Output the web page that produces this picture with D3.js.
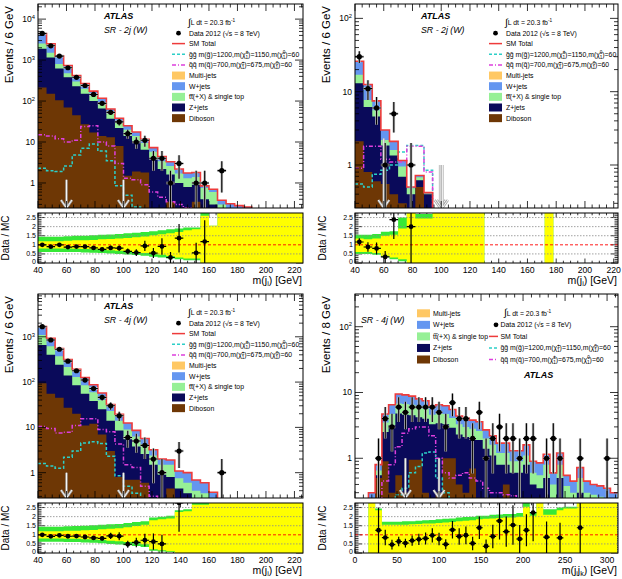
<!DOCTYPE html>
<html>
<head>
<meta charset="utf-8">
<script src="https://cdn.jsdelivr.net/npm/d3@7"></script>
<style>
  body { margin: 0; background: #fff; }
  svg { display: block; font-family: "Liberation Sans", Arial, Helvetica, sans-serif; }
</style>
</head>
<body>
<script>
// ---------- data: SR-2j (W), m(j), 6 GeV bins from 40 ----------
const p1Data = [4470, 2230, 1250, 650, 380, 240, 145, 88, 53, 31,
  16, 10, 11, 4, 4, 1, 3, 0, 1, 1,
  0, 2, 0, 0, 0, 0, 0, 0, 0, 0, 0];
const p1Diboson = [215, 150, 105, 70, 45, 27, 17, 14, 13, 8,
  1.5, 1.9, 1.8, 0.2, 0.2, 0.35, 0.1, 0.1, 0.35, 0,
  0, 0, 0, 0, 0, 0, 0, 0, 0, 0, 0];
const p1Zjets = [1685, 1000, 515, 310, 185, 123, 83, 52, 24, 14,
  12.5, 7.6, 4.7, 3.6, 2.0, 1.25, 0.9, 0.7, 0.55, 0.4,
  0.3, 0.2, 0.15, 0.12, 0.1, 0.05, 0.04, 0.03, 0.03, 0.02, 0.02];
const p1Ttbar = [640, 350, 180, 100, 70, 50, 35, 24, 13, 8,
  6, 4.5, 3, 2, 1.2, 1.0, 0.7, 0.5, 0.5, 0.35,
  0.3, 0.1, 0.07, 0.08, 0.08, 0, 0, 0, 0, 0, 0];
const p1Wjets = [1930, 980, 450, 260, 120, 67, 40, 27, 14, 8,
  5, 3.5, 2.2, 1.5, 1.0, 0.7, 0.5, 0.45, 0.4, 0.1,
  0.1, 0.08, 0.09, 0.08, 0.08, 0, 0, 0, 0, 0, 0];
const p1Multijet = [4, 2, 1, 0.5, 0, 0, 0, 0, 0, 0,
  0, 0, 0, 0, 0, 0, 0, 0, 0, 0,
  0, 0, 0, 0, 0, 0, 0, 0, 0, 0, 0];
const p1SigGG = [2.3, 2.0, 1.9, 2.6, 4.8, 7, 9, 6, 3.5, 0.85,
  0.5, 0.26, 0.2, 0.15, 0, 0, 0, 0, 0, 0,
  0, 0, 0, 0, 0, 0, 0, 0, 0, 0, 0];
const p1SigQQ = [15, 14, 12, 10, 11, 24, 25, 10, 8, 3,
  1.3, 1.2, 0.9, 0.6, 0.45, 0.35, 0.3, 0.25, 0.2, 0.15,
  0.1, 0, 0, 0, 0, 0, 0, 0, 0, 0, 0];
const p1YellowLo = [0.8, 0.8, 0.8, 0.8, 0.78, 0.77, 0.75, 0.73, 0.7, 0.68,
  0.64, 0.6, 0.55, 0.5, 0.45, 0.38, 0.3, 0.25, 0.25, 0,
  0, 0, 0, 0, 0, 0, 0, 0, 0, 0, 0];
const p1YellowHi = [1.2, 1.2, 1.2, 1.22, 1.25, 1.25, 1.27, 1.3, 1.32, 1.35,
  1.38, 1.42, 1.46, 1.52, 1.58, 1.64, 1.7, 1.8, 1.85, 2.6,
  2.05, 3, 3, 3, 3, 3, 3, 3, 3, 3, 3];
const p1GreenLo = [0.6, 0.6, 0.6, 0.6, 0.6, 0.58, 0.56, 0.55, 0.52, 0.5,
  0.47, 0.44, 0.4, 0.35, 0.3, 0.25, 0.2, 0.15, 0.15, 0,
  0, 0, 0, 0, 0, 0, 0, 0, 0, 0, 0];
const p1GreenHi = [1.45, 1.45, 1.45, 1.47, 1.5, 1.5, 1.52, 1.55, 1.57, 1.6,
  1.63, 1.66, 1.7, 1.75, 1.8, 1.85, 1.9, 1.95, 1.95, 2.75,
  2.05, 3, 3, 3, 3, 3, 3, 3, 3, 3, 3];
const p1Cuts = [60, 100];
const p1CutTop = [1.2, 1.2];

// ---------- data: SR-2j (W), second selection ----------
const p2Data = [30, 11, 6, 1, 5, 0, 1, 0, 0, 0,
  0, 0, 0, 0, 0, 0, 0, 0, 0, 0,
  0, 0, 0, 0, 0, 0, 0, 0, 0, 0, 0];
const p2Diboson = [2.1, 0.8, 0.6, 0.55, 0.4, 0.3, 0.25, 0.5, 0, 0,
  0, 0, 0, 0, 0, 0, 0, 0, 0, 0,
  0, 0, 0, 0, 0, 0, 0, 0, 0, 0, 0];
const p2Zjets = [10.9, 5.4, 4.0, 1.3, 0.95, 0.39, 0.15, 0.12, 0.4, 0.05,
  0.05, 0.04, 0.04, 0.03, 0.03, 0, 0, 0, 0, 0,
  0, 0, 0.03, 0, 0, 0, 0, 0, 0, 0, 0];
const p2Ttbar = [4, 1.5, 1.0, 0.35, 0.25, 0.26, 0.08, 0.06, 0.01, 0,
  0, 0, 0, 0, 0, 0, 0, 0, 0, 0,
  0, 0, 0, 0, 0, 0, 0, 0, 0, 0, 0];
const p2Wjets = [9, 4.8, 1.9, 0.8, 0.5, 0.2, 0.02, 0.04, 0.01, 0,
  0, 0, 0, 0, 0, 0, 0, 0, 0, 0,
  0, 0, 0, 0, 0, 0, 0, 0, 0, 0, 0];
const p2Multijet = [0, 0, 0, 0, 0, 0, 0, 0, 0, 0,
  0, 0, 0, 0, 0, 0, 0, 0, 0, 0,
  0, 0, 0, 0, 0, 0, 0, 0, 0, 0, 0];
const p2SigGG = [0.55, 0.5, 0.75, 0.85, 1.0, 1.5, 1.85, 1.85, 0.85, 0.2,
  0, 0, 0, 0, 0, 0, 0, 0, 0, 0,
  0, 0, 0, 0, 0, 0, 0, 0, 0, 0, 0];
const p2SigQQ = [0.9, 1.8, 1.8, 1.2, 1.1, 1.1, 1.8, 1.8, 0.8, 0.15,
  0.1, 0, 0, 0, 0, 0, 0, 0, 0, 0,
  0, 0, 0, 0, 0, 0, 0, 0, 0, 0, 0];
const p2YellowLo = [0.6, 0.6, 0.55, 0.4, 0.3, 0.2, 0, 0, 0, 0,
  0, 0, 0, 0, 0, null, null, null, null, null,
  null, null, 0, null, null, null, null, null, null, null, null];
const p2YellowHi = [1.35, 1.3, 1.35, 1.5, 1.55, 1.9, 3, 2.45, 2.45, 3,
  3, 3, 3, 3, 3, null, null, null, null, null,
  null, null, 3, null, null, null, null, null, null, null, null];
const p2GreenLo = [0.5, 0.5, 0.45, 0.35, 0.2, 0.1, 0, 0, 0, 0,
  0, 0, 0, 0, 0, null, null, null, null, null,
  null, null, 0, null, null, null, null, null, null, null, null];
const p2GreenHi = [1.55, 1.55, 1.6, 1.72, 1.75, 2.5, 3, 2.7, 2.7, 3,
  3, 3, 3, 3, 3, null, null, null, null, null,
  null, null, 3, null, null, null, null, null, null, null, null];
const p2Cuts = [60, 99.2, 100.8];
const p2CutTop = [2.3, 1.0, 1.0];

// ---------- data: SR-4j (W), m(j) ----------
const p3Data = [1670, 850, 530, 290, 178, 111, 72, 46, 30, 18,
  6, 5, 4, 2, 1, 0, 3, 0, 0, 0,
  0, 1, 0, 0, 0, 0, 0, 0, 0, 0, 0];
const p3Diboson = [94, 55, 45, 27, 20, 11, 12, 7, 3, 0.8,
  0.7, 0.7, 0.6, 0.1, 0.1, 0.45, 0, 0, 0, 0,
  0, 0, 0, 0, 0, 0, 0, 0, 0, 0, 0];
const p3Zjets = [566, 345, 195, 113, 65, 44, 26, 18, 11, 7.7,
  4.8, 3.1, 2.0, 1.4, 0.8, 0.35, 0.45, 0.35, 0.25, 0.2,
  0.12, 0.05, 0.02, 0.02, 0.02, 0.02, 0.02, 0.02, 0.02, 0.02, 0.02];
const p3Ttbar = [440, 220, 130, 75, 45, 30, 22, 15, 9, 5.5,
  3.5, 2.5, 1.6, 0.9, 0.6, 0.7, 0.3, 0.25, 0.15, 0.15,
  0.08, 0.05, 0, 0, 0, 0, 0, 0, 0, 0, 0];
const p3Wjets = [570, 304, 176, 100, 61, 41, 27, 17.5, 9, 5.5,
  3.5, 2.3, 1.5, 0.8, 0.5, 0.4, 0.34, 0.4, 0.29, 0.25,
  0.17, 0.1, 0, 0, 0, 0, 0, 0, 0, 0, 0];
const p3Multijet = [2, 1, 0.5, 0, 0, 0, 0, 0, 0, 0,
  0, 0, 0, 0, 0, 0, 0, 0, 0, 0,
  0, 0, 0, 0, 0, 0, 0, 0, 0, 0, 0];
const p3SigGG = [1.6, 1.4, 1.25, 2.2, 3.0, 4.5, 4.8, 4.4, 2.3, 0.85,
  0.5, 0.35, 0.2, 0.1, 0, 0, 0, 0, 0, 0,
  0, 0, 0, 0, 0, 0, 0, 0, 0, 0, 0];
const p3SigQQ = [10.4, 9.4, 7.5, 7.8, 11, 15.5, 15.5, 9, 8, 4.3,
  1.5, 1.3, 0.5, 0.3, 0.2, 0.15, 0, 0, 0, 0,
  0, 0, 0, 0, 0, 0, 0, 0, 0, 0, 0];
const p3YellowLo = [0.8, 0.8, 0.8, 0.79, 0.78, 0.76, 0.74, 0.72, 0.68, 0.65,
  0.6, 0.55, 0.48, 0.2, 0.15, 0.1, 0, 0, 0, 0,
  0, 0, 0, 0, 0, 0, 0, 0, 0, 0, 0];
const p3YellowHi = [1.2, 1.2, 1.2, 1.22, 1.23, 1.25, 1.27, 1.3, 1.33, 1.36,
  1.42, 1.48, 1.55, 1.8, 1.85, 1.9, 2.25, 2.3, 2.65, 2.65,
  3, 3, 3, 3, 3, 3, 3, 3, 3, 3, 3];
const p3GreenLo = [0.62, 0.62, 0.62, 0.6, 0.6, 0.58, 0.56, 0.54, 0.5, 0.47,
  0.42, 0.38, 0.33, 0.12, 0.08, 0.05, 0, 0, 0, 0,
  0, 0, 0, 0, 0, 0, 0, 0, 0, 0, 0];
const p3GreenHi = [1.45, 1.45, 1.45, 1.47, 1.48, 1.5, 1.52, 1.55, 1.58, 1.6,
  1.65, 1.7, 1.75, 1.95, 2.0, 2.05, 2.35, 2.4, 2.75, 2.75,
  3, 3, 3, 3, 3, 3, 3, 3, 3, 3, 3];
const p3Cuts = [60, 100];
const p3CutTop = [1.0, 1.0];

// ---------- data: SR-4j (W), m(ji jk), 8 GeV bins from 0 ----------
const p4Data = [0, 0, 0, 1, 4, 3, 6, 5, 6, 6,
  6, 6, 5, 3, 7, 4, 4, 2, 5, 1,
  2, 3, 2, 2, 1, 2, 2, 0, 1, 2,
  1, 0, 0, 1, 0, 0, 0, 1, 0];
const p4Diboson = [0, 0, 0, 0.5, 0.9, 0.3, 0.55, 0.3, 0.95, 0.95,
  0.3, 0.25, 0.3, 1.0, 1.0, 0.4, 0.3, 0.7, 0.2, 0.2,
  0.1, 0.1, 0.4, 0.1, 0.1, 0.1, 0.05, 0.05, 0.05, 0,
  0, 0, 0, 0, 0, 0, 0, 0, 0];
const p4Zjets = [0, 0, 0.15, 0.05, 1.6, 2.9, 4.25, 4.3, 3.55, 3.25,
  3.7, 3.05, 3.1, 2.3, 1.9, 1.9, 1.8, 1.3, 1.7, 1.2,
  1.0, 0.7, 0.4, 0.5, 0.5, 0.7, 0.35, 0.3, 0.45, 0.25,
  0.5, 0.25, 0.2, 0.3, 0.2, 0.18, 0.17, 0.15, 0.13];
const p4Ttbar = [0, 0, 0.05, 0.1, 1.0, 1.5, 2.0, 2.1, 2.0, 1.8,
  1.6, 1.3, 1.4, 1.4, 1.2, 1.0, 0.9, 0.8, 0.7, 0.6,
  0.5, 0.4, 0.4, 0.3, 0.3, 0.3, 0.2, 0.2, 0.3, 0.15,
  0.3, 0.13, 0.1, 0.2, 0.1, 0.1, 0.09, 0.09, 0.07];
const p4Wjets = [0, 0, 0.1, 0.15, 1.2, 1.8, 2.7, 2.5, 2.3, 2.0,
  1.9, 1.6, 1.7, 1.6, 1.4, 1.1, 1.1, 1.0, 1.0, 0.7,
  0.6, 0.5, 0.5, 0.4, 0.4, 0.5, 0.3, 0.3, 0.35, 0.2,
  0.4, 0.17, 0.15, 0.22, 0.15, 0.12, 0.12, 0.11, 0.1];
const p4Multijet = [0, 0, 0, 0, 0, 0, 0, 0, 0, 0,
  0, 0, 0, 0, 0, 0, 0, 0, 0, 0,
  0, 0, 0, 0, 0, 0, 0, 0, 0, 0,
  0, 0, 0, 0, 0, 0, 0, 0, 0];
const p4SigGG = [0, 0, 0, 0, 0, 0, 0.28, 0.35, 0.6, 0.75,
  1.2, 1.25, 0.5, 0.3, 0.2, 0.1, 0, 0, 0, 0,
  0, 0, 0, 0, 0, 0, 0, 0, 0, 0,
  0, 0, 0, 0, 0, 0, 0, 0, 0];
const p4SigQQ = [0, 0, 0, 0.2, 0.45, 0.8, 1.5, 2.4, 2.8, 3.0,
  3.0, 2.2, 1.0, 0.6, 0.5, 0.55, 0.6, 0.5, 0.45, 0.35,
  0.3, 0.3, 0.28, 0.27, 0.2, 0.2, 0.2, 0.2, 0.2, 0.15,
  0.15, 0.15, 0.1, 0.1, 0.1, 0.1, 0.1, 0.1, 0.1];
const p4YellowLo = [null, null, 0, 0, 0, 0, 0, 0, 0, 0,
  0, 0, 0, 0, 0, 0, 0, 0, 0, 0,
  0, 0, 0, 0, 0, 0, 0, 0, 0, 0,
  0, 0, 0, 0, 0, 0, 0, 0, 0];
const p4YellowHi = [null, null, 3, 2.35, 1.55, 1.55, 1.55, 1.55, 1.58, 1.6,
  1.62, 1.62, 1.65, 1.68, 1.7, 1.75, 1.78, 1.8, 1.85, 1.88,
  1.9, 1.92, 1.95, 1.95, 2.0, 2.55, 2.05, 3, 2.1, 2.1,
  2.35, 2.45, 2.45, 3, 3, 3, 3, 3, 3];
const p4GreenLo = [null, null, 0, 0, 0, 0, 0, 0, 0, 0,
  0, 0, 0, 0, 0, 0, 0, 0, 0, 0,
  0, 0, 0, 0, 0, 0, 0, 0, 0, 0,
  0, 0, 0, 0, 0, 0, 0, 0, 0];
const p4GreenHi = [null, null, 3, 2.45, 1.72, 1.72, 1.72, 1.74, 1.75, 1.78,
  1.8, 1.82, 1.85, 1.88, 1.9, 1.95, 1.98, 2.0, 2.05, 2.05,
  2.1, 2.12, 2.15, 2.15, 2.2, 2.75, 2.2, 3, 2.4, 2.4,
  2.5, 2.55, 2.55, 3, 3, 3, 3, 3, 3];
const p4Cuts = [60, 100];
const p4CutTop = [1.0, 1.0];

// tick labels
const xLabelsJet = [40, 60, 80, 100, 120, 140, 160, 180, 200, 220];
const xLabelsJJ = [0, 50, 100, 150, 200, 250, 300];
const ratioLabels = [0, 0.5, 1, 1.5, 2, 2.5];
const ratioGrid = [0.5, 1.5, 2, 2.5];

// legend texts
const lumiText = [['\u222B', 'big'], ['L dt = 20.3 fb', ''], ['-1', 'sup']];
const dataText = [['Data 2012 (\u221As = 8 TeV)', '']];
const smText = [['SM Total', '']];
const ggText = [['g\u0303g\u0303 m(g\u0303)=1200,m(\u03C7\u0303', ''], ['\u00B1', 'sup'], ['1', 'subb'],
  [')=1150,m(\u03C7\u0303', ''], ['0', 'sup'], ['1', 'subb'], [')=60', '']];
const qqText = [['q\u0303q\u0303 m(q\u0303)=700,m(\u03C7\u0303', ''], ['\u00B1', 'sup'], ['1', 'subb'],
  [')=675,m(\u03C7\u0303', ''], ['0', 'sup'], ['1', 'subb'], [')=60', '']];
const bkgNames = ['Diboson', 'Z+jets', 'tt\u0305(+X) & single top', 'W+jets', 'Multi-jets'];
const bkgColors = ['#6e3705', '#0a0a5a', '#96f096', '#6496f0', '#ffc864'];
const smColor = '#ee3b3b', ggColor = '#2ccfc8', qqColor = '#dd3fdd';

const W = 622, H = 579, ratioMax = 2.75;

const panels = [
  { left: 38, right: 303, top: 4, bottom: 208, rTop: 213, rBottom: 263,
    xMin: 40, xMax: 226, binStart: 40, binW: 6, yMin: 0.245, yMax: 23400,
    xMajor: 20, xMinor: 5, xLabels: xLabelsJet, yTitle: 'Events / 6 GeV',
    xTitle: [['m(j', ''], ['i', 'sub'], [') [GeV]', '']], region: 'SR - 2j (W)', legend: 'std',
    data: p1Data, mc: [p1Diboson, p1Zjets, p1Ttbar, p1Wjets, p1Multijet], gg: p1SigGG, qq: p1SigQQ,
    band: [p1YellowLo, p1YellowHi, p1GreenLo, p1GreenHi], cuts: p1Cuts, cutTop: p1CutTop },
  { left: 355, right: 618, top: 4, bottom: 208, rTop: 213, rBottom: 263,
    xMin: 40, xMax: 223, binStart: 40, binW: 6, yMin: 0.259, yMax: 157,
    xMajor: 20, xMinor: 5, xLabels: xLabelsJet, yTitle: 'Events / 6 GeV',
    xTitle: [['m(j', ''], ['i', 'sub'], [') [GeV]', '']], region: 'SR - 2j (W)', legend: 'std',
    data: p2Data, mc: [p2Diboson, p2Zjets, p2Ttbar, p2Wjets, p2Multijet], gg: p2SigGG, qq: p2SigQQ,
    band: [p2YellowLo, p2YellowHi, p2GreenLo, p2GreenHi], cuts: p2Cuts, cutTop: p2CutTop },
  { left: 38, right: 303, top: 294, bottom: 498, rTop: 503, rBottom: 553,
    xMin: 40, xMax: 226, binStart: 40, binW: 6, yMin: 0.276, yMax: 8800,
    xMajor: 20, xMinor: 5, xLabels: xLabelsJet, yTitle: 'Events / 6 GeV',
    xTitle: [['m(j', ''], ['i', 'sub'], [') [GeV]', '']], region: 'SR - 4j (W)', legend: 'std',
    data: p3Data, mc: [p3Diboson, p3Zjets, p3Ttbar, p3Wjets, p3Multijet], gg: p3SigGG, qq: p3SigQQ,
    band: [p3YellowLo, p3YellowHi, p3GreenLo, p3GreenHi], cuts: p3Cuts, cutTop: p3CutTop },
  { left: 355, right: 618, top: 294, bottom: 498, rTop: 503, rBottom: 553,
    xMin: 0, xMax: 313, binStart: 0, binW: 8, yMin: 0.249, yMax: 314,
    xMajor: 50, xMinor: 10, xLabels: xLabelsJJ, yTitle: 'Events / 8 GeV',
    xTitle: [['m(j', ''], ['i', 'sub'], ['j', ''], ['k', 'sub'], [') [GeV]', '']], region: 'SR - 4j (W)', legend: 'split',
    data: p4Data, mc: [p4Diboson, p4Zjets, p4Ttbar, p4Wjets, p4Multijet], gg: p4SigGG, qq: p4SigQQ,
    band: [p4YellowLo, p4YellowHi, p4GreenLo, p4GreenHi], cuts: p4Cuts, cutTop: p4CutTop }
];

const svg = d3.select('body').append('svg').attr('width', W).attr('height', H);
const defs = svg.append('defs');

// text with super/subscripts
function rich(t, parts, size, subShift = 0.3) {
  let shift = 0;
  parts.forEach(([s, k]) => {
    const off = k === 'sup' ? -0.38 * size : (k === 'sub' || k === 'subb') ? subShift * size : k === 'big' ? 0.1 * size : 0;
    const fs = (k === 'sup' || k === 'sub' || k === 'subb') ? size * 0.68 : k === 'big' ? size * 1.45 : size;
    const ts = t.append('tspan').attr('dy', off - shift).attr('font-size', fs).text(s);
    if (k === 'subb') ts.attr('dx', -0.4 * size);
    shift = off;
  });
}

function drawPanel(p, idx) {
  const x = d3.scaleLinear().domain([p.xMin, p.xMax]).range([p.left, p.right]);
  const y = d3.scaleLog().domain([p.yMin, p.yMax]).range([p.bottom, p.top]);
  const r = d3.scaleLinear().domain([0, ratioMax]).range([p.rBottom, p.rTop]);
  const nb = p.data.length;
  const edge = i => x(p.binStart + i * p.binW);
  const floorY = p.bottom + 6;
  const yv = v => v > 0 ? Math.min(y(v), floorY) : floorY;

  defs.append('clipPath').attr('id', 'mclip' + idx).append('rect')
    .attr('x', p.left).attr('y', p.top).attr('width', p.right - p.left).attr('height', p.bottom - p.top);
  defs.append('clipPath').attr('id', 'rclip' + idx).append('rect')
    .attr('x', p.left).attr('y', p.rTop).attr('width', p.right - p.left).attr('height', p.rBottom - p.rTop);

  const g = svg.append('g').attr('clip-path', `url(#mclip${idx})`);

  const stepLine = vals => vals.map((v, i) => `${i ? 'L' : 'M'}${edge(i)},${yv(v)}L${edge(i + 1)},${yv(v)}`).join('');
  const stepArea = vals => `M${edge(0)},${floorY}` + vals.map((v, i) => `L${edge(i)},${yv(v)}L${edge(i + 1)},${yv(v)}`).join('') + `L${edge(nb)},${floorY}Z`;

  // stacked backgrounds
  const cum = [];
  let run = p.mc[0].map(() => 0);
  p.mc.forEach(comp => { run = run.map((v, i) => v + comp[i]); cum.push(run); });
  for (let k = cum.length - 1; k >= 0; k--) {
    g.append('path').attr('d', stepArea(cum[k])).attr('fill', bkgColors[k]);
  }
  const total = cum[cum.length - 1];

  // signals and SM total
  g.append('path').attr('d', stepLine(p.gg)).attr('fill', 'none').attr('stroke', ggColor)
    .attr('stroke-width', 1.5).attr('stroke-dasharray', '3,2');
  g.append('path').attr('d', stepLine(p.qq)).attr('fill', 'none').attr('stroke', qqColor)
    .attr('stroke-width', 1.5).attr('stroke-dasharray', '4,2,1,2');
  g.append('path').attr('d', stepLine(total)).attr('fill', 'none').attr('stroke', smColor).attr('stroke-width', 1.6);

  // cut arrows
  p.cuts.forEach((c, i) => {
    const ax = x(c), y0 = y(p.cutTop[i]), y1 = p.bottom;
    const d = `M${ax},${y0}L${ax},${y1}M${ax - 5.5},${y1 - 8}L${ax},${y1}L${ax + 5.5},${y1 - 8}`;
    g.append('path').attr('d', d).attr('fill', 'none').attr('stroke', '#a8a8a8').attr('stroke-width', 2.4);
    g.append('path').attr('d', d).attr('fill', 'none').attr('stroke', '#ffffff').attr('stroke-width', 0.9);
  });

  // data points
  p.data.forEach((n, i) => {
    if (n <= 0) return;
    const cx = (edge(i) + edge(i + 1)) / 2, cy = y(n);
    const lo = n - Math.sqrt(n), hi = n + Math.sqrt(n);
    const d = `M${cx},${lo > 0 ? Math.min(y(lo), floorY) : floorY}L${cx},${y(hi)}M${edge(i)},${cy}L${edge(i + 1)},${cy}`;
    g.append('path').attr('d', d).attr('stroke', '#bdbdbd').attr('stroke-width', 2.6);
    g.append('path').attr('d', d).attr('stroke', '#000').attr('stroke-width', 1.1);
    g.append('circle').attr('cx', cx).attr('cy', cy).attr('r', 2.6).attr('fill', '#000');
  });

  // main frame and ticks
  const ax = svg.append('g').attr('stroke', '#000').attr('stroke-width', 0.8);
  const tick = (x1, y1, x2, y2) => ax.append('line').attr('x1', x1).attr('y1', y1).attr('x2', x2).attr('y2', y2);
  const xTickSet = (yB, yT, lMaj, lMin) => {
    d3.range(Math.ceil(p.xMin / p.xMinor) * p.xMinor, p.xMax + 1e-6, p.xMinor).forEach(t => {
      const len = Math.abs(t / p.xMajor - Math.round(t / p.xMajor)) < 1e-6 ? lMaj : lMin;
      tick(x(t), yB, x(t), yB - len); tick(x(t), yT, x(t), yT + len);
    });
  };
  xTickSet(p.bottom, p.top, 7, 3.5);
  for (let e = -1; e <= 5; e++) {
    for (let k = 1; k <= 9; k++) {
      const v = k * Math.pow(10, e);
      if (v < p.yMin || v > p.yMax) continue;
      const len = k === 1 ? 8 : 4;
      tick(p.left, y(v), p.left + len, y(v)); tick(p.right, y(v), p.right - len, y(v));
    }
  }
  svg.append('rect').attr('x', p.left).attr('y', p.top).attr('width', p.right - p.left).attr('height', p.bottom - p.top)
    .attr('fill', 'none').attr('stroke', '#000').attr('stroke-width', 1);

  for (let e = 0; e <= 5; e++) {
    const v = Math.pow(10, e);
    if (v > p.yMax) break;
    const t = svg.append('text').attr('x', p.left - 3).attr('y', y(v) + 3).attr('text-anchor', 'end').attr('font-size', 8.5);
    if (e === 0) t.text('1'); else if (e === 1) t.text('10'); else rich(t, [['10', ''], [String(e), 'sup']], 8.5);
  }

  svg.append('text').attr('transform', `translate(${p.left - 25.5},${p.top + 2}) rotate(-90)`)
    .attr('text-anchor', 'end').attr('font-size', 11.5).text(p.yTitle);

  // labels and legend
  const lg = svg.append('g').attr('clip-path', `url(#mclip${idx})`);
  const fs = 6.9;
  const atlasX = p.legend === 'std' ? p.left + 66 : p.left + 169;
  const atlasY = p.legend === 'std' ? p.top + 15.3 : p.top + 84;
  lg.append('text').attr('x', atlasX).attr('y', atlasY).attr('font-size', 9).attr('font-weight', 'bold')
    .attr('font-style', 'italic').text('ATLAS');
  lg.append('text').attr('x', p.legend === 'std' ? p.left + 66 : p.left + 6).attr('y', p.top + 28.6)
    .attr('font-size', 8.8).attr('font-style', 'italic').text(p.region);

  const entryText = (tx, cy, parts) => rich(lg.append('text').attr('x', tx).attr('y', cy + 2.4).attr('font-size', fs), parts, fs);
  const lineSym = (x0, x1, cy, color, dash) => lg.append('line').attr('x1', x0).attr('x2', x1).attr('y1', cy).attr('y2', cy)
    .attr('stroke', color).attr('stroke-width', 1.5).attr('stroke-dasharray', dash);
  const boxSym = (x0, x1, cy, color) => lg.append('rect').attr('x', x0).attr('y', cy - 4).attr('width', x1 - x0).attr('height', 8).attr('fill', color);

  if (p.legend === 'std') {
    const s0 = p.left + 134, s1 = p.left + 147, tx = p.left + 151;
    entryText(tx - 1, p.top + 18.7, lumiText);
    lg.append('circle').attr('cx', (s0 + s1) / 2).attr('cy', p.top + 29.2).attr('r', 2.4).attr('fill', '#000');
    entryText(tx, p.top + 29.2, dataText);
    const rowY = k => p.top + 39.6 + 10.65 * k;
    lineSym(s0, s1, rowY(0), smColor, null); entryText(tx, rowY(0), smText);
    lineSym(s0, s1, rowY(1), ggColor, '3,2'); entryText(tx, rowY(1), ggText);
    lineSym(s0, s1, rowY(2), qqColor, '4,2,1,2'); entryText(tx, rowY(2), qqText);
    [4, 3, 2, 1, 0].forEach((c, k) => { boxSym(s0, s1, rowY(3 + k), bkgColors[c]); entryText(tx, rowY(3 + k), [[bkgNames[c], '']]); });
  } else {
    const rowL = k => p.top + 19.3 + 11.55 * k;
    [4, 3, 2, 1, 0].forEach((c, k) => { boxSym(p.left + 62, p.left + 75, rowL(k), bkgColors[c]); entryText(p.left + 78, rowL(k), [[bkgNames[c], '']]); });
    const s0 = p.left + 134, s1 = p.left + 143, tx = p.left + 145.5;
    entryText(p.left + 149, rowL(0), lumiText);
    lg.append('circle').attr('cx', p.left + 141).attr('cy', rowL(1)).attr('r', 2.4).attr('fill', '#000');
    entryText(tx, rowL(1), dataText);
    lineSym(s0, s1, rowL(2), smColor, null); entryText(tx, rowL(2), smText);
    lineSym(s0, s1, rowL(3), ggColor, '3,2'); entryText(tx, rowL(3), ggText);
    lineSym(s0, s1, rowL(4), qqColor, '4,2,1,2'); entryText(tx, rowL(4), qqText);
  }

  // ratio panel
  const rg = svg.append('g').attr('clip-path', `url(#rclip${idx})`);
  const bandPath = (lo, hi) => {
    let d = '', i = 0;
    while (i < nb) {
      if (lo[i] == null) { i++; continue; }
      let j = i; while (j < nb && lo[j] != null) j++;
      let s = `M${edge(i)},${r(hi[i])}`;
      for (let k = i; k < j; k++) s += `L${edge(k)},${r(hi[k])}L${edge(k + 1)},${r(hi[k])}`;
      for (let k = j - 1; k >= i; k--) s += `L${edge(k + 1)},${r(lo[k])}L${edge(k)},${r(lo[k])}`;
      d += s + 'Z'; i = j;
    }
    return d;
  };
  const [yLo, yHi, gLo, gHi] = p.band;
  rg.append('path').attr('d', bandPath(gLo, gHi)).attr('fill', '#36e836');
  rg.append('path').attr('d', bandPath(yLo, yHi)).attr('fill', '#ffff00');
  ratioGrid.forEach(v => rg.append('line').attr('x1', p.left).attr('x2', p.right).attr('y1', r(v)).attr('y2', r(v))
    .attr('stroke', '#8a8a8a').attr('stroke-width', 0.8).attr('stroke-dasharray', '1.5,1.5'));
  rg.append('line').attr('x1', p.left).attr('x2', p.right).attr('y1', r(1)).attr('y2', r(1))
    .attr('stroke', '#ff0000').attr('stroke-width', 0.9).attr('stroke-dasharray', '3,2');
  p.data.forEach((n, i) => {
    if (n <= 0 || total[i] <= 0) return;
    const rv = n / total[i];
    if (rv > ratioMax + 0.01) return;
    const err = rv / Math.sqrt(n);
    const cx = (edge(i) + edge(i + 1)) / 2, cy = r(rv);
    rg.append('path').attr('d', `M${cx},${r(Math.max(rv - err, -0.1))}L${cx},${r(rv + err)}M${edge(i)},${cy}L${edge(i + 1)},${cy}`)
      .attr('stroke', '#000').attr('stroke-width', 1.2);
    rg.append('circle').attr('cx', cx).attr('cy', cy).attr('r', 2.4).attr('fill', '#000');
  });

  xTickSet(p.rBottom, p.rTop, 4.5, 2.3);
  d3.range(0, ratioMax + 1e-6, 0.1).forEach(v => {
    const len = Math.abs(v * 2 - Math.round(v * 2)) < 1e-6 ? 7 : 3.5;
    tick(p.left, r(v), p.left + len, r(v)); tick(p.right, r(v), p.right - len, r(v));
  });
  svg.append('rect').attr('x', p.left).attr('y', p.rTop).attr('width', p.right - p.left).attr('height', p.rBottom - p.rTop)
    .attr('fill', 'none').attr('stroke', '#000').attr('stroke-width', 1);

  ratioLabels.forEach(v => svg.append('text').attr('x', p.left - 2).attr('y', r(v) + (v === 0 ? 1.0 : 2.3)).attr('text-anchor', 'end')
    .attr('font-size', 7).text(String(v)));
  p.xLabels.forEach(v => svg.append('text').attr('x', x(v)).attr('y', p.rBottom + 10).attr('text-anchor', 'middle')
    .attr('font-size', 8.7).text(String(v)));
  rich(svg.append('text').attr('x', p.right - 1).attr('y', p.rBottom + 20.8).attr('text-anchor', 'end').attr('font-size', 10.5), p.xTitle, 10.5, 0.2);
  svg.append('text').attr('transform', `translate(${p.left - 29},${(p.rTop + p.rBottom) / 2}) rotate(-90)`)
    .attr('text-anchor', 'middle').attr('font-size', 10).text('Data / MC');
}

panels.forEach(drawPanel);
</script>
</body>
</html>
